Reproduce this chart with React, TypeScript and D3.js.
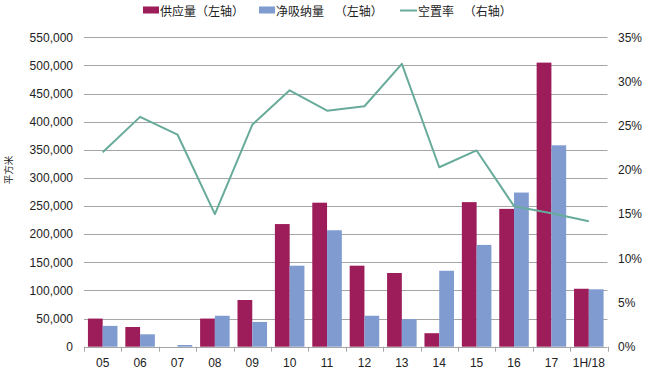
import React from "react";
import * as d3 from "d3";

const categories = ["05", "06", "07", "08", "09", "10", "11", "12", "13", "14", "15", "16", "17", "1H/18"];
const supply = [50000, 35000, 0, 50000, 83000, 218000, 256000, 144000, 131000, 24000, 257000, 245000, 505000, 103000];
const netAbsorption = [37000, 22000, 3000, 55000, 44000, 144000, 207000, 55000, 49000, 135000, 181000, 274000, 358000, 102000];
const vacancy = [22.0, 26.0, 24.0, 15.0, 25.1, 29.0, 26.7, 27.2, 32.0, 20.3, 22.2, 15.9, 15.1, 14.2];
const leftTicks = [0, 50000, 100000, 150000, 200000, 250000, 300000, 350000, 400000, 450000, 500000, 550000];
const rightTicks = [0, 5, 10, 15, 20, 25, 30, 35];
const seriesNames = ["供应量（左轴）", "净吸纳量", "（左轴）", "空置率", "（右轴）"];

const W = 650;
const H = 376;
const left = 84;
const right = 607.5;
const top = 37.3;
const bottom = 346.7;

const C_SUPPLY = "#9c1d5a";
const C_NET = "#7f9bd0";
const C_LINE = "#68ab9b";
const C_GRID = "#a6a6a6";
const FONT = "'Liberation Sans', Arial, sans-serif";
const CJK = "'Noto Sans CJK SC', 'Noto Sans', sans-serif";

export default function App() {
  const pIn = 0.21;
  const x0 = d3.scaleBand<string>().domain(categories).range([left, right]).paddingInner(pIn).paddingOuter(pIn / 2);
  const x1 = d3.scaleBand<string>().domain(["s", "n"]).range([0, x0.bandwidth()]);
  const step = x0.step();
  const yL = d3.scaleLinear().domain([0, 550000]).range([bottom, top]);
  const yR = d3.scaleLinear().domain([0, 35]).range([bottom, top]);
  const fmt = d3.format(",");
  const line = d3
    .line<number>()
    .x((_, i) => (x0(categories[i]) as number) + x0.bandwidth() / 2)
    .y((d) => yR(d));

  return (
    <svg width={W} height={H} style={{ position: "absolute", left: 0, top: 0, background: "#fff" }}>
      <rect x={0} y={0} width={W} height={H} fill="#fff" />
      {/* gridlines */}
      {leftTicks.slice(1).map((t) => (
        <line key={t} x1={left} x2={right} y1={Math.round(yL(t)) + 0.5} y2={Math.round(yL(t)) + 0.5} stroke={C_GRID} strokeWidth={1} />
      ))}
      {/* bars */}
      {categories.map((c, i) => (
        <g key={c}>
          {supply[i] > 0 && (
            <rect
              x={(x0(c) as number) + (x1("s") as number)}
              y={yL(supply[i])}
              width={x1.bandwidth()}
              height={bottom - yL(supply[i])}
              fill={C_SUPPLY}
            />
          )}
          <rect
            x={(x0(c) as number) + (x1("n") as number)}
            y={yL(netAbsorption[i])}
            width={x1.bandwidth()}
            height={bottom - yL(netAbsorption[i])}
            fill={C_NET}
          />
        </g>
      ))}
      {/* x axis */}
      <line x1={left} x2={right} y1={Math.round(bottom) + 0.5} y2={Math.round(bottom) + 0.5} stroke={C_GRID} strokeWidth={1} />
      {d3.range(categories.length + 1).map((i) => {
        const xx = Math.round(left + i * step) + 0.5;
        return <line key={i} x1={xx} x2={xx} y1={bottom} y2={bottom + 5} stroke={C_GRID} strokeWidth={1} />;
      })}
      {categories.map((c) => (
        <text key={c} x={(x0(c) as number) + x0.bandwidth() / 2} y={367} textAnchor="middle" fontFamily={FONT} fontSize={12} fill="#222">
          {c}
        </text>
      ))}
      {/* left axis labels */}
      {leftTicks.map((t) => (
        <text key={t} x={73} y={yL(t) + 4.3} textAnchor="end" fontFamily={FONT} fontSize={12} fill="#222">
          {fmt(t)}
        </text>
      ))}
      {/* right axis labels */}
      {rightTicks.map((t) => (
        <text key={t} x={618} y={yR(t) + 4.3} textAnchor="start" fontFamily={FONT} fontSize={12} fill="#222">
          {t + "%"}
        </text>
      ))}
      {/* line */}
      <path d={line(vacancy) as string} fill="none" stroke={C_LINE} strokeWidth={2} strokeLinejoin="round" />
      {/* y title */}
      <text transform="translate(12,170) rotate(-90)" textAnchor="middle" fontFamily={CJK} fontSize={9.5} fill="#222">
        平方米
      </text>
      {/* legend */}
      <rect x={143} y={6.5} width={16} height={7} fill={C_SUPPLY} />
      <text x={160} y={15.5} fontFamily={CJK} fontSize={12} fill="#222">
        {seriesNames[0]}
      </text>
      <rect x={259} y={6.5} width={16} height={7} fill={C_NET} />
      <text x={276} y={15.5} fontFamily={CJK} fontSize={12} fill="#222">
        {seriesNames[1]}
        <tspan dx={8}>{" " + seriesNames[2]}</tspan>
      </text>
      <line x1={400} x2={417} y1={10.5} y2={10.5} stroke={C_LINE} strokeWidth={2} />
      <text x={418} y={15.5} fontFamily={CJK} fontSize={12} fill="#222">
        {seriesNames[3]}
        <tspan dx={7}>{" " + seriesNames[4]}</tspan>
      </text>
    </svg>
  );
}
